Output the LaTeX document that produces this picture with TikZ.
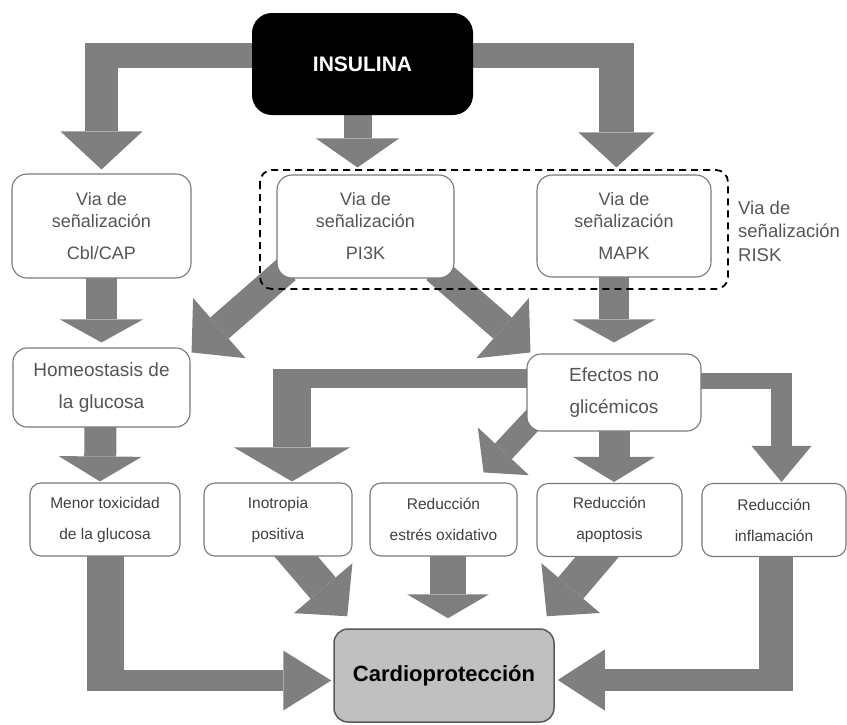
\documentclass[tikz,border=0pt]{standalone}
\usepackage{fontspec}
\setmainfont{Liberation Sans}
\usetikzlibrary{arrows.meta,calc,backgrounds}
\definecolor{ag}{RGB}{127,127,127}
\definecolor{boxline}{RGB}{120,120,120}
\definecolor{txtgray}{RGB}{85,85,85}
\definecolor{cardfill}{RGB}{192,192,192}
\tikzset{
  bigarrow/.style n args={3}{draw=ag, line width=#1, line cap=butt,
     -{Triangle[width=#2, length=#3, line width=0pt]}},
  band/.style={draw=ag, line width=#1, line cap=butt},
  boxa/.style={draw=boxline, fill=white, line width=1.1pt, rounded corners=15pt,
     inner sep=0pt, align=center, text=txtgray,
     font=\fontsize{18}{22}\selectfont},
  boxb/.style={draw=boxline, fill=white, line width=1.1pt, rounded corners=14pt,
     inner sep=0pt, align=center, text=txtgray,
     font=\fontsize{19}{32}\selectfont},
  boxc/.style={draw=boxline, fill=white, line width=1.1pt, rounded corners=11pt,
     inner sep=0pt, align=center, text=black!75,
     font=\fontsize{15.5}{31}\selectfont,
     minimum height=73pt},
}
\begin{document}
\begin{tikzpicture}[x=1pt,y=-1pt]
\useasboundingbox (0,0) rectangle (847,724);

% top node
\node[fill=black, rounded corners=20pt, minimum width=221pt, minimum height=102pt,
      inner sep=0pt, text=white, font=\fontsize{21}{24}\selectfont\bfseries]
      (ins) at (362.5,64) {INSULINA};

% row 2
\node[boxa, minimum width=179pt, minimum height=104pt] (cbl) at (101.5,226)
   {Via de\\señalización\\[10pt]Cbl/CAP};
\node[boxa, minimum width=177pt, minimum height=103pt] (pi3k) at (365.5,226.5)
   {Via de\\señalización\\[10pt]PI3K};
\node[boxa, minimum width=174pt, minimum height=102pt] (mapk) at (624,226)
   {Via de\\señalización\\[10pt]MAPK};
\node[anchor=west, align=left, inner sep=0pt, text=txtgray,
      font=\fontsize{18.5}{23.5}\selectfont] (risk) at (738,231)
   {Via de\\señalización\\RISK};

% row 3
\node[boxb, minimum width=177pt, minimum height=79pt] (homeo) at (101.5,387.5)
   {Homeostasis de\\la glucosa};
\node[boxb, minimum width=174pt, minimum height=77pt] (efectos) at (614,392.5)
   {Efectos no\\glicémicos};

% row 4
\node[boxc, minimum width=150pt] (menor) at (105,519.5) {Menor toxicidad\\de la glucosa};
\node[boxc, minimum width=148pt] (inot) at (278,519.5) {Inotropia\\positiva};
\node[boxc, minimum width=147pt] (estres) at (443.5,519.5) {Reducción\\estrés oxidativo};
\node[boxc, minimum width=145pt] (apop) at (609.5,520) {Reducción\\apoptosis};
\node[boxc, minimum width=144pt] (infl) at (774,520) {Reducción\\inflamación};

% bottom node
\node[draw=black!65, fill=cardfill, line width=1.5pt, rounded corners=14pt,
      minimum width=220pt, minimum height=93pt, inner sep=0pt,
      font=\fontsize{22}{26}\selectfont\bfseries]
      (cardio) at (444,675.5) {\raisebox{-4pt}{Cardioprotección}};

% dashed RISK frame
\draw[black, line width=1.8pt, dash pattern=on 7pt off 5pt, rounded corners=12pt]
   (260,170) rectangle (728,289);

\begin{pgfonlayer}{background}
% INSULINA -> three pathways
\draw[band=25pt] ($(ins.west)+(10,-8.5)$) -- (85,55.5);
\draw[bigarrow={33pt}{82pt}{38pt}] (101.5,43) -- ($(cbl.north)+(0,-4)$);
\draw[bigarrow={28pt}{83pt}{29pt}] ($(ins.south)+(-5,-2)$) -- ($(pi3k.north)+(-8,-7)$);
\draw[band=25pt] ($(ins.east)+(-10,-8.5)$) -- (634,55.5);
\draw[bigarrow={35pt}{76pt}{35pt}] (616.5,43) -- ($(mapk.north)+(-7.5,-7)$);

% pathways -> row 3
\draw[bigarrow={31pt}{83pt}{23pt}] ($(cbl.south)+(0,-2)$) -- ($(homeo.north)+(0,-5)$);
\draw[bigarrow={30pt}{83pt}{23pt}] ($(mapk.south)+(-10,-2)$) -- ($(efectos.north)+(0,-11)$);
\draw[bigarrow={28pt}{80pt}{37pt}] ($(pi3k.south west)+(10,-9)$) -- ($(homeo.north east)+(1,5)$);
\draw[bigarrow={28pt}{80pt}{37pt}] ($(pi3k.south east)+(-19,-9)$) -- ($(efectos.north west)+(4,-1)$);

% row 3 -> row 4
\draw[bigarrow={32pt}{83pt}{25pt}] ($(homeo.south)+(-1,-2)$) -- ($(menor.north)+(-5,-1)$);
\draw[band=19pt] ($(efectos.west)+(10,-14)$) -- (273,378.5);
\draw[bigarrow={38pt}{116pt}{34pt}] (292,369) -- ($(inot.north)+(14,-1)$);
\draw[band=16pt] ($(efectos.east)+(-10,-11.5)$) -- (792,381);
\draw[bigarrow={21pt}{60pt}{36pt}] (781.5,373) -- ($(infl.north)+(7.5,-1)$);
\draw[bigarrow={31pt}{82pt}{25pt}] ($(efectos.south)+(0,-2)$) -- ($(apop.north)+(4.5,-1)$);
\draw[bigarrow={23pt}{70pt}{29pt}] ($(efectos.south west)+(30,-37)$) -- ($(estres.north east)+(-34,-10)$);

% row 4 -> Cardioproteccion
\draw[band=37pt] ($(menor.south)+(0.5,-2)$) -- (105.5,691);
\draw[bigarrow={21pt}{60pt}{48pt}] (87,680.5) -- ($(cardio.west)+(-2,5)$);
\draw[band=34pt] ($(infl.south)+(2,-2)$) -- (776,691);
\draw[bigarrow={22pt}{61pt}{47pt}] (793,680) -- ($(cardio.east)+(3,4.5)$);
\draw[bigarrow={36pt}{82pt}{24pt}] ($(estres.south)+(4.5,-2)$) -- ($(cardio.north)+(4,-10)$);
\draw[bigarrow={33pt}{77pt}{37pt}] ($(inot.center)+(7,24)$) -- ($(cardio.north west)+(14,-12)$);
\draw[bigarrow={33pt}{77pt}{37pt}] ($(apop.center)+(-0.5,23)$) -- ($(cardio.north east)+(-8,-12)$);
\end{pgfonlayer}
\end{tikzpicture}
\end{document}
